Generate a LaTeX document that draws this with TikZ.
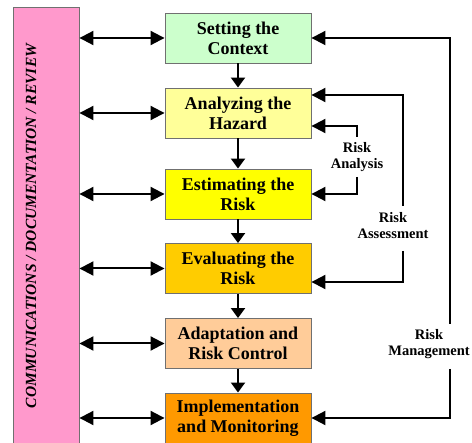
\documentclass[tikz,border=0pt]{standalone}
\usepackage{fontspec}
\setmainfont{Liberation Serif}
\usetikzlibrary{arrows.meta}
\definecolor{cA}{HTML}{CCFFCC}
\definecolor{cB}{HTML}{FFFF99}
\definecolor{cC}{HTML}{FFFF00}
\definecolor{cD}{HTML}{FFCC00}
\definecolor{cE}{HTML}{FFCC99}
\definecolor{cF}{HTML}{FF9900}
\definecolor{cbar}{HTML}{FF99CC}
\definecolor{edge}{HTML}{707070}
\begin{document}
\begin{tikzpicture}[x=1pt,y=-1pt,
  stepbox/.style={draw=edge, line width=0.9pt, minimum width=146pt, minimum height=50pt,
    inner sep=0pt, align=center, font=\bfseries\fontsize{18}{20}\selectfont},
  dbl/.style={line width=2pt, {Triangle[length=14pt,width=14pt]}-{Triangle[length=14pt,width=14pt]}},
  darr/.style={line width=2pt, -{Triangle[length=10pt,width=14pt]}},
  rarr/.style={line width=2pt, -{Triangle[length=14pt,width=14pt]}},
  lbl/.style={align=center, inner sep=0pt, font=\bfseries\fontsize{14.5}{16}\selectfont}]
\useasboundingbox (0,0) rectangle (472,443);
\node[draw=edge, line width=0.9pt, fill=cbar, minimum width=66pt, minimum height=440pt, inner sep=0pt] (bar) at (46,227) {};
\node[rotate=90, font=\bfseries\itshape\fontsize{15.5}{18}\selectfont, inner sep=0pt] (bartxt) at (31,226) {COMMUNICATIONS / DOCUMENTATION / REVIEW};
\node[stepbox, fill=cA] (b1) at (238,38) {Setting the\\Context};
\node[stepbox, fill=cB] (b2) at (238,113) {Analyzing the\\Hazard};
\node[stepbox, fill=cC] (b3) at (238,194) {Estimating the\\Risk};
\node[stepbox, fill=cD] (b4) at (238,268.5) {Evaluating the\\Risk};
\node[stepbox, fill=cE] (b5) at (238,343.5) {Adaptation and\\Risk Control};
\node[stepbox, fill=cF] (b6) at (238,418) {Implementation\\and Monitoring};
\foreach \b in {b1,b2,b3,b4,b5,b6} {\draw[dbl] (bar.east |- \b.west) -- (\b.west);}
\draw[darr] (b1) -- (b2);
\draw[darr] (b2) -- (b3);
\draw[darr] (b3) -- (b4);
\draw[darr] (b4) -- (b5);
\draw[darr] (b5) -- (b6);
\node[lbl] (ra) at (357,157) {Risk\\Analysis};
\node[lbl] (rs) at (393,226) {Risk\\Assessment};
\node[lbl] (rm) at (429,344) {Risk\\Management};
\coordinate (raT) at (357,137);
\coordinate (raB) at (357,177);
\coordinate (rsT) at (403,206);
\coordinate (rsB) at (403,251);
\coordinate (rmT) at (450,324);
\coordinate (rmB) at (450,369);
\draw[rarr] (raT) |- ([yshift=-13pt]b2.east);
\draw[rarr] (raB) |- (b3.east);
\draw[rarr] (rsT) |- ([yshift=18pt]b2.east);
\draw[rarr] (rsB) |- ([yshift=-13.5pt]b4.east);
\draw[rarr] (rmT) |- (b1.east);
\draw[rarr] (rmB) |- (b6.east);
\end{tikzpicture}
\end{document}
